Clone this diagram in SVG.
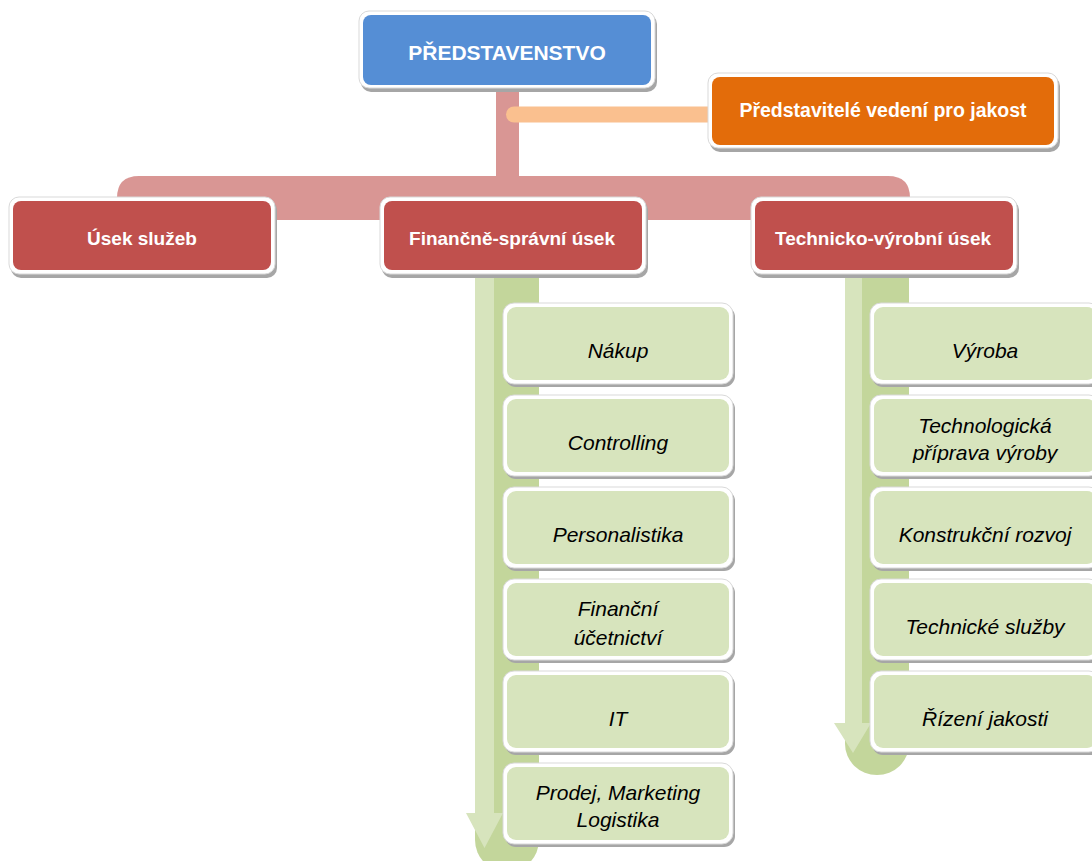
<svg xmlns="http://www.w3.org/2000/svg" width="1092" height="861" viewBox="0 0 1092 861">
<style>
.sh{fill:#a6a6a6}
.bd{fill:#ffffff;stroke:#d9d9d9;stroke-width:1}
.blue{fill:#558ed5}
.orange{fill:#e36c0a}
.red{fill:#c0504d}
.green{fill:#d7e4bd}
.tb{font-family:"Liberation Sans",Arial,sans-serif;font-weight:bold;fill:#ffffff;text-anchor:middle}
.ti{font-family:"Liberation Sans",Arial,sans-serif;font-style:italic;fill:#000000;text-anchor:middle;font-size:21px}
</style>
<defs>
<clipPath id="clipTech"><rect x="874" y="399" width="222" height="64"/></clipPath>
</defs>
<rect width="1092" height="861" fill="#ffffff"/>
<g id="connectors">
  <rect x="496" y="80" width="23" height="110" fill="#d99694"/>
  <path d="M117,220 V198 Q117,176 139,176 H888 Q910,176 910,198 V220 Z" fill="#d99694"/>
  <line x1="514" y1="114.5" x2="715" y2="114.5" stroke="#fac08f" stroke-width="16" stroke-linecap="round"/>
  <path d="M475,268 H539 V840 A32,32 0 0 1 475,840 Z" fill="#c3d69b"/>
  <path d="M475,268 H494 V813 H503 L484.5,848 L466,813 H475 Z" fill="#d7e4bd"/>
  <path d="M845,268 H909 V744 A32,31 0 0 1 845,744 Z" fill="#c3d69b"/>
  <path d="M845,268 H862 V723 H871 L853,753 L834,723 H845 Z" fill="#d7e4bd"/>
</g>
<g id="node-predstavenstvo">
  <rect class="sh" x="361" y="14" width="296" height="78" rx="10"/>
  <rect class="bd" x="359" y="11" width="296" height="77" rx="10"/>
  <rect class="blue" x="363" y="15" width="288" height="70" rx="8"/>
  <text class="tb" x="507" y="60" font-size="21">PŘEDSTAVENSTVO</text>
</g>
<g id="node-jakost">
  <rect class="sh" x="710" y="76" width="350" height="76" rx="10"/>
  <rect class="bd" x="708" y="73" width="350" height="75" rx="10"/>
  <rect class="orange" x="712" y="77" width="342" height="68" rx="8"/>
  <text class="tb" x="883" y="117" font-size="19.5">Představitelé vedení pro jakost</text>
</g>
<g id="node-usek-sluzeb">
  <rect class="sh" x="11" y="200" width="266" height="78" rx="10"/>
  <rect class="bd" x="9" y="197" width="266" height="77" rx="10"/>
  <rect class="red" x="13" y="201" width="258" height="69" rx="8"/>
  <text class="tb" x="142" y="245" font-size="19">Úsek služeb</text>
</g>
<g id="node-financne-spravni">
  <rect class="sh" x="382" y="200" width="266" height="78" rx="10"/>
  <rect class="bd" x="380" y="197" width="266" height="77" rx="10"/>
  <rect class="red" x="384" y="201" width="258" height="69" rx="8"/>
  <text class="tb" x="512" y="245" font-size="19">Finančně-správní úsek</text>
</g>
<g id="node-technicko-vyrobni">
  <rect class="sh" x="753" y="200" width="266" height="78" rx="10"/>
  <rect class="bd" x="751" y="197" width="266" height="77" rx="10"/>
  <rect class="red" x="755" y="201" width="258" height="69" rx="8"/>
  <text class="tb" x="883" y="245" font-size="19">Technicko-výrobní úsek</text>
</g>
<g id="node-nakup">
  <rect class="sh" x="505" y="306" width="230" height="81" rx="11"/>
  <rect class="bd" x="503" y="303" width="230" height="81" rx="11"/>
  <rect class="green" x="507" y="307" width="222" height="73" rx="9"/>
  <text class="ti" x="618" y="358">Nákup</text>
</g>
<g id="node-controlling">
  <rect class="sh" x="505" y="398" width="230" height="81" rx="11"/>
  <rect class="bd" x="503" y="395" width="230" height="81" rx="11"/>
  <rect class="green" x="507" y="399" width="222" height="73" rx="9"/>
  <text class="ti" x="618" y="450">Controlling</text>
</g>
<g id="node-personalistika">
  <rect class="sh" x="505" y="490" width="230" height="81" rx="11"/>
  <rect class="bd" x="503" y="487" width="230" height="81" rx="11"/>
  <rect class="green" x="507" y="491" width="222" height="73" rx="9"/>
  <text class="ti" x="618" y="542">Personalistika</text>
</g>
<g id="node-financni-ucetnictvi">
  <rect class="sh" x="505" y="582" width="230" height="81" rx="11"/>
  <rect class="bd" x="503" y="579" width="230" height="81" rx="11"/>
  <rect class="green" x="507" y="583" width="222" height="73" rx="9"/>
  <text class="ti" x="618" y="616">Finanční</text>
  <text class="ti" x="618" y="645">účetnictví</text>
</g>
<g id="node-it">
  <rect class="sh" x="505" y="674" width="230" height="81" rx="11"/>
  <rect class="bd" x="503" y="671" width="230" height="81" rx="11"/>
  <rect class="green" x="507" y="675" width="222" height="73" rx="9"/>
  <text class="ti" x="618" y="726">IT</text>
</g>
<g id="node-prodej">
  <rect class="sh" x="505" y="766" width="230" height="81" rx="11"/>
  <rect class="bd" x="503" y="763" width="230" height="81" rx="11"/>
  <rect class="green" x="507" y="767" width="222" height="73" rx="9"/>
  <text class="ti" x="618" y="800">Prodej, Marketing</text>
  <text class="ti" x="618" y="827">Logistika</text>
</g>
<g id="node-vyroba">
  <rect class="sh" x="872" y="306" width="230" height="81" rx="11"/>
  <rect class="bd" x="870" y="303" width="230" height="81" rx="11"/>
  <rect class="green" x="874" y="307" width="222" height="73" rx="9"/>
  <text class="ti" x="985" y="358">Výroba</text>
</g>
<g id="node-technologicka">
  <rect class="sh" x="872" y="398" width="230" height="81" rx="11"/>
  <rect class="bd" x="870" y="395" width="230" height="81" rx="11"/>
  <rect class="green" x="874" y="399" width="222" height="73" rx="9"/>
  <g clip-path="url(#clipTech)">
    <text class="ti" x="985" y="433">Technologická</text>
    <text class="ti" x="985" y="460">příprava výroby</text>
  </g>
</g>
<g id="node-konstrukcni">
  <rect class="sh" x="872" y="490" width="230" height="81" rx="11"/>
  <rect class="bd" x="870" y="487" width="230" height="81" rx="11"/>
  <rect class="green" x="874" y="491" width="222" height="73" rx="9"/>
  <text class="ti" x="985" y="542">Konstrukční rozvoj</text>
</g>
<g id="node-technicke-sluzby">
  <rect class="sh" x="872" y="582" width="230" height="81" rx="11"/>
  <rect class="bd" x="870" y="579" width="230" height="81" rx="11"/>
  <rect class="green" x="874" y="583" width="222" height="73" rx="9"/>
  <text class="ti" x="985" y="634">Technické služby</text>
</g>
<g id="node-rizeni-jakosti">
  <rect class="sh" x="872" y="674" width="230" height="81" rx="11"/>
  <rect class="bd" x="870" y="671" width="230" height="81" rx="11"/>
  <rect class="green" x="874" y="675" width="222" height="73" rx="9"/>
  <text class="ti" x="985" y="726">Řízení jakosti</text>
</g>
</svg>
